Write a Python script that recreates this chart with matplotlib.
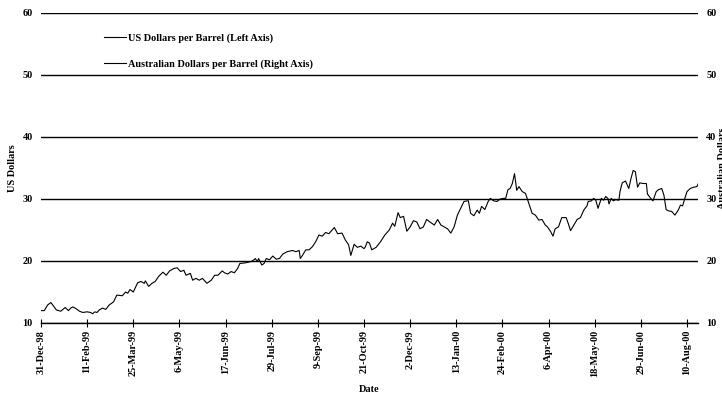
import matplotlib
matplotlib.use("Agg")
import matplotlib.pyplot as plt
import matplotlib.ticker as mticker
import pandas as pd
from matplotlib.lines import Line2D

# Oil price, US dollars per barrel
dates = [
    "1998-12-31", "1999-01-03", "1999-01-06", "1999-01-09", "1999-01-12", "1999-01-14",
    "1999-01-18", "1999-01-22", "1999-01-25", "1999-01-27", "1999-01-29", "1999-02-01",
    "1999-02-04", "1999-02-07", "1999-02-11", "1999-02-14", "1999-02-16", "1999-02-18",
    "1999-02-20", "1999-02-22", "1999-02-25", "1999-02-28", "1999-03-03", "1999-03-07",
    "1999-03-10", "1999-03-15", "1999-03-18", "1999-03-20", "1999-03-22", "1999-03-25",
    "1999-03-29", "1999-04-01", "1999-04-04", "1999-04-05", "1999-04-08", "1999-04-11",
    "1999-04-14", "1999-04-17", "1999-04-21", "1999-04-24", "1999-04-27", "1999-05-01",
    "1999-05-04", "1999-05-07", "1999-05-10", "1999-05-12", "1999-05-16", "1999-05-18",
    "1999-05-21", "1999-05-24", "1999-05-27", "1999-05-31", "1999-06-04", "1999-06-07",
    "1999-06-10", "1999-06-14", "1999-06-16", "1999-06-19", "1999-06-22", "1999-06-25",
    "1999-06-28", "1999-06-30", "1999-07-05", "1999-07-10", "1999-07-13", "1999-07-14",
    "1999-07-16", "1999-07-17", "1999-07-20", "1999-07-22", "1999-07-24", "1999-07-27",
    "1999-07-30", "1999-08-02", "1999-08-05", "1999-08-08", "1999-08-12", "1999-08-17",
    "1999-08-20", "1999-08-23", "1999-08-24", "1999-08-26", "1999-08-29", "1999-09-01",
    "1999-09-04", "1999-09-07", "1999-09-10", "1999-09-13", "1999-09-16", "1999-09-19",
    "1999-09-22", "1999-09-24", "1999-09-27", "1999-10-01", "1999-10-04", "1999-10-07",
    "1999-10-09", "1999-10-12", "1999-10-15", "1999-10-18", "1999-10-21", "1999-10-22",
    "1999-10-24", "1999-10-26", "1999-10-28", "1999-11-01", "1999-11-05", "1999-11-09",
    "1999-11-13", "1999-11-16", "1999-11-18", "1999-11-21", "1999-11-23", "1999-11-26",
    "1999-11-29", "1999-12-02", "1999-12-05", "1999-12-08", "1999-12-11", "1999-12-14",
    "1999-12-17", "1999-12-20", "1999-12-24", "1999-12-27", "1999-12-30", "2000-01-02",
    "2000-01-05", "2000-01-08", "2000-01-11", "2000-01-14", "2000-01-17", "2000-01-20",
    "2000-01-23", "2000-01-24", "2000-01-26", "2000-01-29", "2000-02-01", "2000-02-03",
    "2000-02-05", "2000-02-08", "2000-02-11", "2000-02-13", "2000-02-16", "2000-02-19",
    "2000-02-22", "2000-02-25", "2000-02-27", "2000-02-29", "2000-03-02", "2000-03-04",
    "2000-03-06", "2000-03-08", "2000-03-10", "2000-03-13", "2000-03-16", "2000-03-19",
    "2000-03-22", "2000-03-25", "2000-03-28", "2000-03-31", "2000-04-03", "2000-04-05",
    "2000-04-08", "2000-04-10", "2000-04-12", "2000-04-15", "2000-04-18", "2000-04-22",
    "2000-04-24", "2000-04-26", "2000-04-29", "2000-05-02", "2000-05-05", "2000-05-08",
    "2000-05-11", "2000-05-12", "2000-05-15", "2000-05-17", "2000-05-19", "2000-05-21",
    "2000-05-24", "2000-05-26", "2000-05-28", "2000-05-30", "2000-05-31", "2000-06-02",
    "2000-06-04", "2000-06-06", "2000-06-09", "2000-06-10", "2000-06-12", "2000-06-15",
    "2000-06-18", "2000-06-20", "2000-06-22", "2000-06-24", "2000-06-26", "2000-06-28",
    "2000-07-01", "2000-07-04", "2000-07-05", "2000-07-08", "2000-07-10", "2000-07-13",
    "2000-07-15", "2000-07-18", "2000-07-20", "2000-07-22", "2000-07-24", "2000-07-27",
    "2000-07-30", "2000-08-02", "2000-08-04", "2000-08-06", "2000-08-08", "2000-08-10",
    "2000-08-13", "2000-08-16", "2000-08-19", "2000-08-20",
]

usd_per_barrel = [
    12.0, 12.0, 12.9, 13.3, 12.6, 12.1,
    11.9, 12.5, 12.0, 12.4, 12.6, 12.3,
    11.9, 11.7, 11.8, 11.7, 11.5, 11.8,
    11.7, 12.1, 12.4, 12.2, 12.9, 13.4,
    14.5, 14.4, 15.0, 14.8, 15.4, 15.0,
    16.5, 16.7, 16.4, 16.8, 15.9, 16.4,
    16.7, 17.5, 18.2, 17.7, 18.4, 18.8,
    18.9, 18.3, 18.5, 17.7, 18.0, 16.9,
    17.2, 16.9, 17.2, 16.4, 16.9, 17.7,
    17.7, 18.4, 18.1, 17.9, 18.3, 18.1,
    18.8, 19.6, 19.7, 19.9, 20.2, 20.4,
    19.9, 20.4, 19.35, 19.6, 20.4, 20.2,
    20.8, 20.3, 20.4, 21.1, 21.5, 21.7,
    21.5, 21.7, 20.4, 20.9, 21.8, 21.8,
    22.3, 23.1, 24.2, 24.0, 24.6, 24.4,
    25.0, 25.4, 24.4, 24.5, 23.4, 22.6,
    20.9, 22.7, 22.2, 22.4, 22.0, 22.2,
    23.1, 22.9, 21.8, 22.2, 23.1, 24.2,
    25.0, 26.1, 25.6, 27.8, 27.0, 27.2,
    24.8, 25.5, 26.5, 26.3, 25.2, 25.5,
    26.7, 26.3, 25.8, 26.7, 25.8, 25.5,
    25.2, 24.5, 25.5, 27.4, 28.5, 29.6,
    29.7, 29.7, 27.7, 27.3, 28.2, 27.7,
    28.8, 28.3, 29.6, 30.1, 29.7, 29.6,
    30.0, 30.1, 30.1, 31.5, 31.7, 32.5,
    34.1, 31.4, 32.0, 31.2, 30.9, 29.3,
    27.7, 27.4, 26.6, 26.7, 25.8, 25.5,
    24.7, 24.0, 25.2, 25.5, 27.0, 27.0,
    26.0, 24.9, 25.8, 26.7, 27.0, 28.2,
    28.9, 29.6, 29.7, 30.1, 29.8, 28.5,
    30.1, 29.8, 30.4, 30.1, 29.2, 30.1,
    29.7, 29.9, 29.8, 31.2, 32.6, 32.9,
    31.7, 33.3, 34.6, 34.4, 31.9, 32.6,
    32.5, 32.5, 30.8, 30.1, 29.7, 31.2,
    31.5, 31.7, 30.6, 28.3, 28.1, 28.0,
    27.4, 28.2, 29.0, 28.9, 30.1, 31.2,
    31.7, 31.9, 32.0, 32.4,
]

tick_dates = [
    "1998-12-31", "1999-02-11", "1999-03-25", "1999-05-06", "1999-06-17",
    "1999-07-29", "1999-09-09", "1999-10-21", "1999-12-02", "2000-01-13",
    "2000-02-24", "2000-04-06", "2000-05-18", "2000-06-29", "2000-08-10",
]
y_ticks = [10, 20, 30, 40, 50, 60]

series_labels = [
    "US Dollars per Barrel (Left Axis)",
    "Australian Dollars per Barrel (Right Axis)",
]

FS = 7.4
plt.rcParams["font.family"] = ["Liberation Serif", "DejaVu Serif"]
plt.rcParams["font.weight"] = "bold"
plt.rcParams["font.size"] = FS

fig = plt.figure(figsize=(7.22, 3.96), dpi=100)
ax = fig.add_axes([41 / 722, 1 - 323 / 396, 657 / 722, 310 / 396])

x = pd.to_datetime(dates)
ax.plot(x, usd_per_barrel, color="black", lw=0.8)

ax.set_ylim(y_ticks[0], y_ticks[-1])
ax.set_xlim(x[0], x[-1])
ax.yaxis.set_major_locator(mticker.FixedLocator(y_ticks))
ax.grid(axis="y", color="black", lw=1.0)
ax.set_axisbelow(True)

xt = pd.to_datetime(tick_dates)
ax.set_xticks(xt)
ax.set_xticklabels([f"{d.day}-{d.strftime('%b-%y')}" for d in xt], rotation=90)
ax.tick_params(axis="x", direction="inout", length=6, width=0.8, color="black", pad=2)
ax.tick_params(axis="y", length=0, labelleft=True, labelright=True, pad=6)

for side in ("left", "right", "top"):
    ax.spines[side].set_visible(False)
ax.spines["bottom"].set_linewidth(1.0)

ax.set_xlabel("Date", fontweight="bold")
ax.xaxis.set_label_coords(0.5, -0.2)
ax.set_ylabel("US Dollars", fontweight="bold")
ax.yaxis.set_label_coords(-0.036, 0.5)

# right-hand axis title sits at the edge of the canvas
fig.text(718 / 722, 1 - 168 / 396, "Australian Dollars", rotation=90,
         ha="left", va="center", fontweight="bold")

handles = [Line2D([], [], color="black", lw=0.8) for _ in series_labels]
ax.legend(handles, series_labels, loc="upper left",
          bbox_to_anchor=(63 / 657, 1 - 20 / 310), frameon=False,
          handlelength=2.1, handletextpad=0.2, labelspacing=1.65,
          borderpad=0, borderaxespad=0, prop={"weight": "bold", "size": FS})

fig.savefig("out.png", dpi=100)
